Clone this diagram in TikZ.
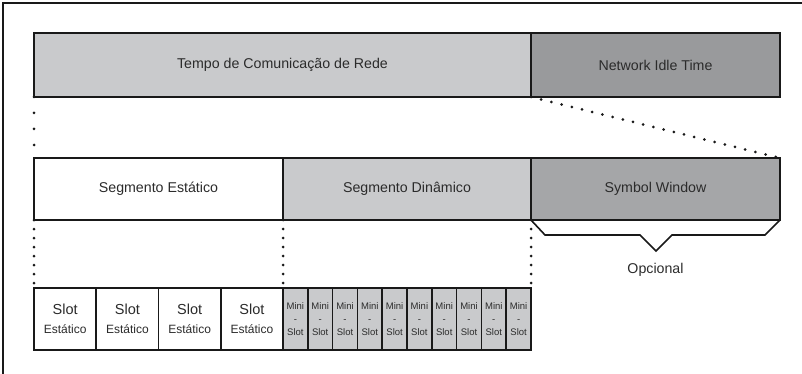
\documentclass[tikz,border=0pt]{standalone}
\usepackage{fontspec}
\setmainfont{Liberation Sans}
\definecolor{lightgr}{HTML}{C9CACC}
\definecolor{darkgr}{HTML}{999A9C}
\definecolor{midgr}{HTML}{A5A6A8}
\definecolor{txt}{HTML}{2B2B2B}
\begin{document}
\begin{tikzpicture}[x=1pt,y=-1pt]
    \tikzstyle{every node}=[draw=black!90, line width=1.6pt, outer sep=0pt, inner sep=1pt, text=txt, font=\fontsize{14.2}{17}\selectfont];
    \tikzstyle{seg}=[minimum height=62pt];
    \tikzstyle{dots}=[line width=3pt, line cap=round, dash pattern=on 0pt off 9pt, color=black!90];
    \useasboundingbox (0,0) rectangle (802,374);
    \draw[line width=2pt, color=black!90] (3,374) -- (3,3) -- (802,3);
    % tempo total
    \node[seg, fill=lightgr, minimum width=497pt, minimum height=64pt] (tcr) at (282.5,65) {Tempo de Comunicação de Rede};
    \node[seg, fill=darkgr, minimum width=249pt, minimum height=64pt] (nit) at (655.5,65) {Network Idle Time};
    % segmentos
    \node[seg, fill=white, minimum width=249pt] (se) at (158.5,189) {Segmento Estático};
    \node[seg, fill=lightgr, minimum width=248pt] (sd) at (407,189) {Segmento Dinâmico};
    \node[seg, fill=midgr, minimum width=249pt] (sw) at (655.5,189) {Symbol Window};
    % slots
    \foreach \i in {0,...,3}
        \node[seg, fill=white, minimum width=62.25pt, align=center, font=\fontsize{14.5}{19}\selectfont] (s\i) at ({65.125+62.25*\i},319)
            {Slot\\{\fontsize{12}{14}\selectfont Estático}};
    \foreach \i in {0,...,9}
        \node[seg, fill=lightgr, minimum width=24.8pt, inner sep=0pt, align=center, font=\fontsize{9.5}{13}\selectfont] (m\i) at ({295.4+24.8*\i},319)
            {Mini\\-\\Slot};
    % ligacoes pontilhadas
    \draw[dots, dash pattern=on 0pt off 16pt] (tcr.south west) -- (se.north west);
    \draw[dots, dash pattern=on 0pt off 10.5pt] (nit.south west) -- (sw.north east);
    \draw[dots] (se.south west) -- (s0.north west);
    \draw[dots] (sd.south west) -- (m0.north west);
    \draw[dots] (sd.south east) -- (m9.north east);
    % chaveta
    \draw[line width=1.6pt, color=black!90] (sw.south west) -- ++(14,15) -- ++(95,0) -- ++(16,16)
        -- ++(16,-16) -- ++(93,0) -- (sw.south east);
    \node[draw=none] (opc) at ([yshift=-50pt]sw.south) {Opcional};
\end{tikzpicture}
\end{document}
